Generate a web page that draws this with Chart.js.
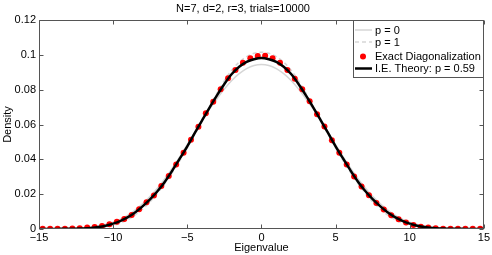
<!DOCTYPE html>
<html lang="en">
<head>
<meta charset="UTF-8">
<title>Eigenvalue Density</title>
<script src="https://cdn.jsdelivr.net/npm/chart.js"></script>
<style>
    body { margin: 0; background: #fff; }
</style>
</head>
<body>
<canvas id="myChart" width="492" height="255"></canvas>
<script>
    const chartTitle = 'N=7, d=2, r=3, trials=10000';

    // exact diagonalization histogram (bin centres, density)
    const dotX = [-14.75, -14.25, -13.75, -13.25, -12.75, -12.25, -11.75, -11.25, -10.75, -10.25,
                  -9.75, -9.25, -8.75, -8.25, -7.75, -7.25, -6.75, -6.25, -5.75, -5.25,
                  -4.75, -4.25, -3.75, -3.25, -2.75, -2.25, -1.75, -1.25, -0.75, -0.25,
                  0.25, 0.75, 1.25, 1.75, 2.25, 2.75, 3.25, 3.75, 4.25, 4.75,
                  5.25, 5.75, 6.25, 6.75, 7.25, 7.75, 8.25, 8.75, 9.25, 9.75,
                  10.25, 10.75, 11.25, 11.75, 12.25, 12.75, 13.25, 13.75, 14.25, 14.75];
    const dotY = [0.0002, 0.0002, 0.0002, 0.0002, 0.0003, 0.0004, 0.0008, 0.0011, 0.0017, 0.0027,
                  0.0042, 0.0057, 0.0080, 0.0113, 0.0153, 0.0192, 0.0247, 0.0304, 0.0371, 0.0438,
                  0.0512, 0.0587, 0.0664, 0.0731, 0.0802, 0.0865, 0.0913, 0.0955, 0.0980, 0.0993,
                  0.0995, 0.0980, 0.0955, 0.0913, 0.0862, 0.0802, 0.0733, 0.0659, 0.0589, 0.0509,
                  0.0438, 0.0371, 0.0301, 0.0244, 0.0194, 0.0149, 0.0112, 0.0079, 0.0056, 0.0038,
                  0.0023, 0.0013, 0.0008, 0.0004, 0.0002, 0.0002, 0.0002, 0.0002, 0.0002, 0.0002];

    // curves
    const lineX = [-15, -14.5, -14, -13.5, -13, -12.5, -12, -11.5, -11, -10.5,
                   -10, -9.5, -9, -8.5, -8, -7.5, -7, -6.5, -6, -5.5,
                   -5, -4.5, -4, -3.5, -3, -2.5, -2, -1.5, -1, -0.5,
                   0,
                   0.5, 1, 1.5, 2, 2.5, 3, 3.5, 4, 4.5, 5,
                   5.5, 6, 6.5, 7, 7.5, 8, 8.5, 9, 9.5, 10,
                   10.5, 11, 11.5, 12, 12.5, 13, 13.5, 14, 14.5, 15];
    const p0Y = [0, 0, 0.0001, 0.0002, 0.0003, 0.0004, 0.0007, 0.0011, 0.0017, 0.0026,
                 0.0039, 0.0057, 0.0080, 0.0110, 0.0146, 0.0188, 0.0236, 0.0290, 0.0350, 0.0415,
                 0.0485, 0.0555, 0.0625, 0.0688, 0.0748, 0.0804, 0.0853, 0.0892, 0.0921, 0.0939,
                 0.0945,
                 0.0939, 0.0921, 0.0892, 0.0853, 0.0804, 0.0748, 0.0688, 0.0625, 0.0555, 0.0485,
                 0.0415, 0.0350, 0.0290, 0.0236, 0.0188, 0.0146, 0.0110, 0.0080, 0.0057, 0.0039,
                 0.0026, 0.0017, 0.0011, 0.0007, 0.0004, 0.0003, 0.0002, 0.0001, 0, 0];
    const p1Y = [0, 0, 0, 0, 0, 0, 0.0001, 0.0002, 0.0005, 0.0011,
                 0.0020, 0.0034, 0.0054, 0.0081, 0.0115, 0.0157, 0.0206, 0.0262, 0.0325, 0.0393,
                 0.0466, 0.0543, 0.0622, 0.0702, 0.0780, 0.0852, 0.0912, 0.0958, 0.0990, 0.1009,
                 0.1015,
                 0.1009, 0.0990, 0.0958, 0.0912, 0.0852, 0.0780, 0.0702, 0.0622, 0.0543, 0.0466,
                 0.0393, 0.0325, 0.0262, 0.0206, 0.0157, 0.0115, 0.0081, 0.0054, 0.0034, 0.0020,
                 0.0011, 0.0005, 0.0002, 0.0001, 0, 0, 0, 0, 0, 0];
    const theoryY = [0, 0, 0, 0.0001, 0.0001, 0.0002, 0.0003, 0.0006, 0.0011, 0.0019,
                     0.0031, 0.0047, 0.0068, 0.0096, 0.0131, 0.0171, 0.0218, 0.0273, 0.0337, 0.0405,
                     0.0475, 0.0550, 0.0624, 0.0697, 0.0767, 0.0833, 0.0890, 0.0932, 0.0960, 0.0975,
                     0.0982,
                     0.0975, 0.0960, 0.0932, 0.0890, 0.0833, 0.0767, 0.0697, 0.0624, 0.0550, 0.0475,
                     0.0405, 0.0337, 0.0273, 0.0218, 0.0171, 0.0131, 0.0096, 0.0068, 0.0047, 0.0031,
                     0.0019, 0.0011, 0.0006, 0.0003, 0.0002, 0.0001, 0.0001, 0, 0, 0];

    const xTicks = [-15, -10, -5, 0, 5, 10, 15];
    const yTicks = [0, 0.02, 0.04, 0.06, 0.08, 0.1, 0.12];

    const FONT = '"Liberation Sans", Arial, Helvetica, sans-serif';
    const AXIS = '#555';

    function pts(xs, ys) {
        return xs.map((x, i) => ({x: x, y: ys[i]}));
    }

    // matlab style box with inward ticks
    const boxTicks = {
        id: 'boxTicks',
        afterDatasetsDraw(chart) {
            const {ctx, chartArea: a, scales: {x, y}} = chart;
            const L = Math.round(a.left) + 0.5, R = Math.round(a.right) - 0.5;
            const T = Math.round(a.top) + 0.5, B = Math.round(a.bottom) - 0.5;
            ctx.save();
            ctx.strokeStyle = AXIS;
            ctx.lineWidth = 1;
            ctx.beginPath();
            ctx.rect(L, T, R - L, B - T);
            xTicks.forEach(v => {
                const px = Math.round(x.getPixelForValue(v)) + 0.5;
                ctx.moveTo(px, B); ctx.lineTo(px, B - 4);
                ctx.moveTo(px, T); ctx.lineTo(px, T + 4);
            });
            yTicks.forEach(v => {
                const py = Math.round(y.getPixelForValue(v)) + 0.5;
                ctx.moveTo(L, py); ctx.lineTo(L + 4, py);
                ctx.moveTo(R, py); ctx.lineTo(R - 4, py);
            });
            ctx.stroke();
            ctx.restore();
        }
    };

    // legend box in the upper right corner
    const boxLegend = {
        id: 'boxLegend',
        afterDraw(chart) {
            const ctx = chart.ctx;
            const left = 353, top = 20, w = 130, h = 57;
            const rows = [30, 42, 56.5, 68.5];
            ctx.save();
            ctx.fillStyle = '#fff';
            ctx.fillRect(left, top, w, h);
            ctx.strokeStyle = AXIS;
            ctx.lineWidth = 1;
            ctx.strokeRect(left + 0.5, top + 0.5, w, h);
            ctx.font = '11px ' + FONT;
            ctx.textBaseline = 'middle';
            chart.data.datasets.forEach((ds, i) => {
                const yy = rows[i];
                if (ds.showLine === false) {
                    ctx.fillStyle = ds.backgroundColor;
                    ctx.beginPath();
                    ctx.arc(363, yy, ds.pointRadius, 0, Math.PI * 2);
                    ctx.fill();
                } else {
                    ctx.strokeStyle = ds.borderColor;
                    ctx.lineWidth = ds.borderWidth;
                    ctx.setLineDash(ds.borderDash || []);
                    ctx.beginPath();
                    ctx.moveTo(355, yy);
                    ctx.lineTo(372, yy);
                    ctx.stroke();
                    ctx.setLineDash([]);
                }
                ctx.fillStyle = '#000';
                ctx.fillText(ds.label, 375, yy + 0.5);
            });
            ctx.restore();
        }
    };

    const ctx = document.getElementById('myChart').getContext('2d');
    const densityChart = new Chart(ctx, {
        type: 'line',
        data: {
            datasets: [{
                label: 'p = 0',
                data: pts(lineX, p0Y),
                borderColor: '#d6d6d6',
                borderWidth: 1.5,
                pointRadius: 0,
                cubicInterpolationMode: 'monotone',
                order: 3
            }, {
                label: 'p = 1',
                data: pts(lineX, p1Y),
                borderColor: '#d6d6d6',
                borderWidth: 1.5,
                borderDash: [4, 3],
                pointRadius: 0,
                cubicInterpolationMode: 'monotone',
                order: 2
            }, {
                label: 'Exact Diagonalization',
                data: pts(dotX, dotY),
                showLine: false,
                backgroundColor: '#ff0000',
                borderColor: '#ff0000',
                pointRadius: 3,
                pointBorderWidth: 0,
                order: 1
            }, {
                label: 'I.E. Theory: p = 0.59',
                data: pts(lineX, theoryY),
                borderColor: '#000',
                borderWidth: 2.5,
                pointRadius: 0,
                cubicInterpolationMode: 'monotone',
                order: 0
            }]
        },
        options: {
            responsive: false,
            animation: false,
            devicePixelRatio: 1,
            layout: { padding: { left: 0, right: 6, top: 0, bottom: 0 } },
            plugins: {
                legend: { display: false },
                tooltip: { enabled: false },
                title: {
                    display: true,
                    text: chartTitle,
                    color: '#000',
                    font: { family: FONT, size: 11, weight: 'normal' },
                    padding: { top: 2.5, bottom: 4.3 }
                }
            },
            scales: {
                x: {
                    type: 'linear',
                    min: -15,
                    max: 15,
                    afterBuildTicks: s => { s.ticks = xTicks.map(v => ({value: v})); },
                    afterFit: s => { s.height = 26; },
                    grid: { display: false, drawTicks: false },
                    border: { display: false },
                    ticks: {
                        padding: 2,
                        color: '#000',
                        font: { family: FONT, size: 11 },
                        maxRotation: 0,
                        callback: v => String(v).replace('-', '\u2212')
                    },
                    title: {
                        display: true,
                        text: 'Eigenvalue',
                        color: '#000',
                        font: { family: FONT, size: 11 },
                        padding: { top: 0, bottom: 0 }
                    }
                },
                y: {
                    min: 0,
                    max: 0.12,
                    afterBuildTicks: s => { s.ticks = yTicks.map(v => ({value: v})); },
                    afterFit: s => { s.width = 39; },
                    grid: { display: false, drawTicks: false },
                    border: { display: false },
                    ticks: {
                        padding: 3,
                        color: '#000',
                        font: { family: FONT, size: 11 },
                        callback: v => String(+v.toFixed(2))
                    },
                    title: {
                        display: true,
                        text: 'Density',
                        color: '#000',
                        font: { family: FONT, size: 11 },
                        padding: { top: 1.5, bottom: 0 }
                    }
                }
            }
        },
        plugins: [boxTicks, boxLegend]
    });
</script>
</body>
</html>
